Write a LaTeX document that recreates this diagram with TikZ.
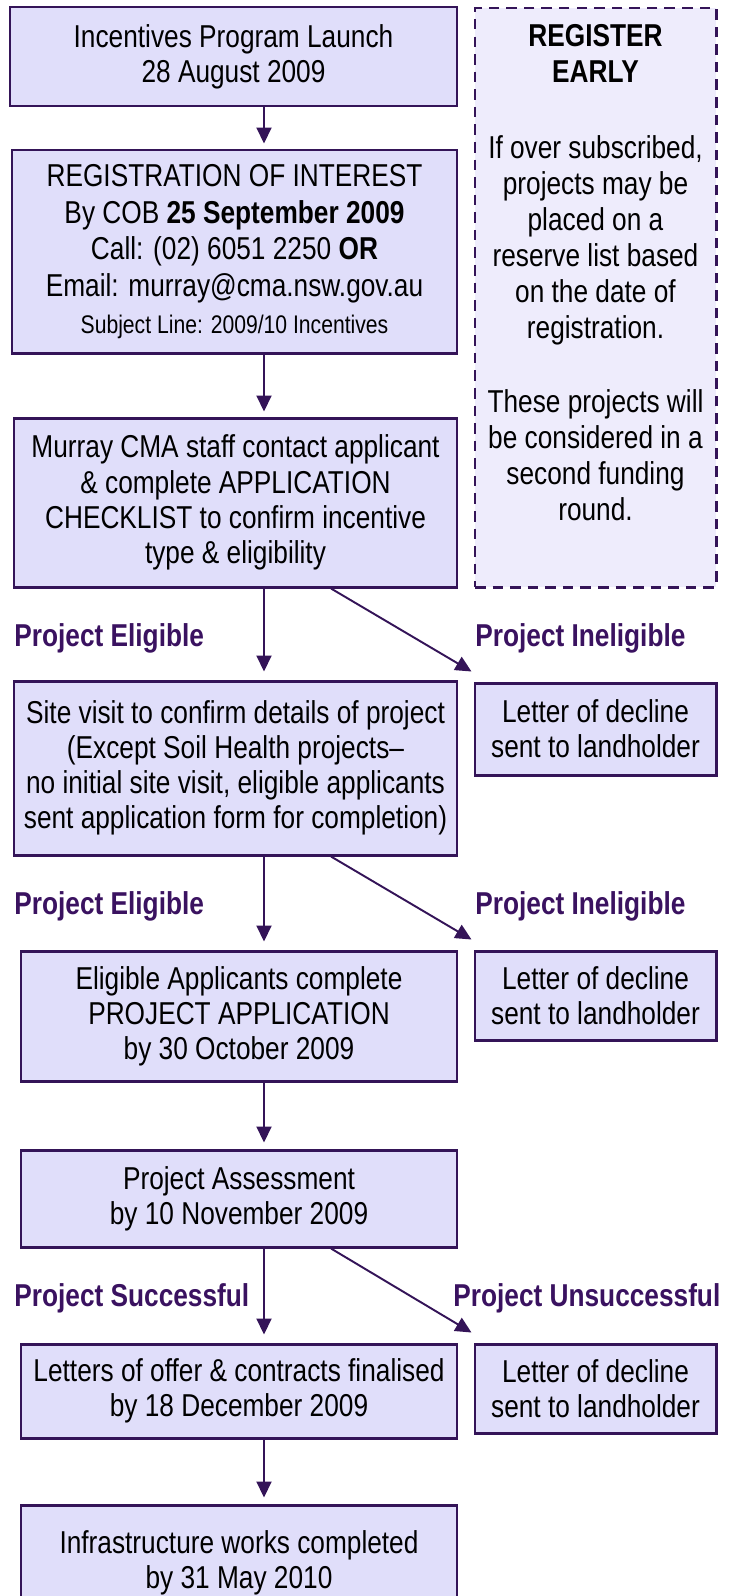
\documentclass[tikz,border=0pt]{standalone}
\usepackage{fontspec}
\setmainfont{Liberation Sans}[FakeStretch=0.83]
\usepackage{tikz}
\usetikzlibrary{arrows.meta}
\definecolor{boxfill}{RGB}{224,222,250}
\definecolor{notefill}{RGB}{238,236,252}
\definecolor{edgecol}{RGB}{52,20,88}
\definecolor{labelcol}{RGB}{58,18,96}
\tikzset{stepbox/.style={draw=edgecol, line width=1.7pt, fill=boxfill, align=center,
   inner sep=0pt, font=\fontsize{18}{20}\selectfont},
 notebox/.style={draw=edgecol, line width=1.7pt, dash pattern=on 6pt off 4pt, fill=notefill},
 flow/.style={draw=edgecol, line width=1.1pt, -{Triangle[length=0.32cm,width=0.3cm]}},
 branch/.style={text=labelcol, inner sep=0pt, font=\fontsize{18}{20}\selectfont\bfseries},
 }

\begin{document}
\begin{tikzpicture}
        \clip (0, 0) rectangle (14.64, -31.92);
        \coordinate (stem) at (5.28, 0);
        \coordinate (fork) at (6.62, 0);

        % main column
        \node[stepbox, minimum width=8.94cm, minimum height=1.98cm] (launch) at (4.67, -1.13)
          {Incentives Program Launch\\28 August 2009};
        \node[stepbox, minimum width=8.9cm, minimum height=4.06cm,
          font=\fontsize{18}{21}\selectfont] (roi) at (4.69, -5.03)
          {REGISTRATION OF INTEREST\\By COB \textbf{25 September 2009}\\
           Call: (02) 6051 2250 \textbf{OR}\\Email: murray@cma.nsw.gov.au\\
           {\fontsize{14.5}{17}\selectfont Subject Line: 2009/10 Incentives}};
        \node[stepbox, minimum width=8.86cm, minimum height=3.38cm] (check) at (4.71, -10.05)
          {Murray CMA staff contact applicant\\\& complete APPLICATION\\
           CHECKLIST to confirm incentive\\type \& eligibility};
        \node[stepbox, minimum width=8.86cm, minimum height=3.48cm] (site) at (4.71, -15.36)
          {Site visit to confirm details of project\\(Except Soil Health projects–\\
           no initial site visit, eligible applicants\\sent application form for completion)};
        \node[stepbox, minimum width=8.72cm, minimum height=2.6cm] (apply) at (4.78, -20.32)
          {Eligible Applicants complete\\PROJECT APPLICATION\\by 30 October 2009};
        \node[stepbox, minimum width=8.72cm, minimum height=1.94cm] (assess) at (4.78, -23.97)
          {Project Assessment\\by 10 November 2009};
        \node[stepbox, minimum width=8.72cm, minimum height=1.88cm] (offer) at (4.78, -27.82)
          {Letters of offer \& contracts finalised\\by 18 December 2009};
        \node[stepbox, minimum width=8.72cm, minimum height=2.3cm] (works) at (4.78, -31.25)
          {Infrastructure works completed\\by 31 May 2010};

        % right column
        \node[notebox, minimum width=4.82cm, minimum height=11.58cm] (register) at (11.91, -5.95) {};
        \node[align=center, inner sep=0pt, anchor=north, font=\fontsize{18}{20.5}\selectfont]
          (regtext) at (11.91, -0.48)
          {\textbf{REGISTER}\\\textbf{EARLY}\\[22.5pt]
           If over subscribed,\\projects may be\\placed on a\\reserve list based\\
           on the date of\\registration.\\[22pt]
           These projects will\\be considered in a\\second funding\\round.};
        \node[stepbox, minimum width=4.82cm, minimum height=1.84cm] (decl1) at (11.91, -14.58)
          {Letter of decline\\sent to landholder};
        \node[stepbox, minimum width=4.82cm, minimum height=1.78cm] (decl2) at (11.91, -19.91)
          {Letter of decline\\sent to landholder};
        \node[stepbox, minimum width=4.82cm, minimum height=1.78cm] (decl3) at (11.91, -27.77)
          {Letter of decline\\sent to landholder};

        % branch labels
        \node[branch, anchor=base west] (elig1) at (0.28, -12.92) {Project Eligible};
        \node[branch, anchor=base west] (inelig1) at (9.5, -12.92) {Project Ineligible};
        \node[branch, anchor=base west] (elig2) at (0.28, -18.28) {Project Eligible};
        \node[branch, anchor=base west] (inelig2) at (9.5, -18.28) {Project Ineligible};
        \node[branch, anchor=base west] (success) at (0.28, -26.12) {Project Successful};
        \node[branch, anchor=base west] (fail) at (9.06, -26.12) {Project Unsuccessful};

        % connectors
        \draw[flow, shorten >=0.1cm] (launch.south -| stem) -- (roi.north -| stem);
        \draw[flow, shorten >=0.1cm] (roi.south -| stem) -- (check.north -| stem);
        \draw[flow, shorten >=0.16cm] (check.south -| stem) -- (site.north -| stem);
        \draw[flow, shorten >=0.16cm] (site.south -| stem) -- (apply.north -| stem);
        \draw[flow, shorten >=0.12cm] (apply.south -| stem) -- (assess.north -| stem);
        \draw[flow, shorten >=0.16cm] (assess.south -| stem) -- (offer.north -| stem);
        \draw[flow, shorten >=0.12cm] (offer.south -| stem) -- (works.north -| stem);
        \draw[flow] (check.south -| fork) -- ([xshift=-0.04cm, yshift=0.2cm]decl1.north west);
        \draw[flow] (site.south -| fork) -- ([xshift=-0.04cm, yshift=0.2cm]decl2.north west);
        \draw[flow] (assess.south -| fork) -- ([xshift=-0.04cm, yshift=0.2cm]decl3.north west);
\end{tikzpicture}
\end{document}
